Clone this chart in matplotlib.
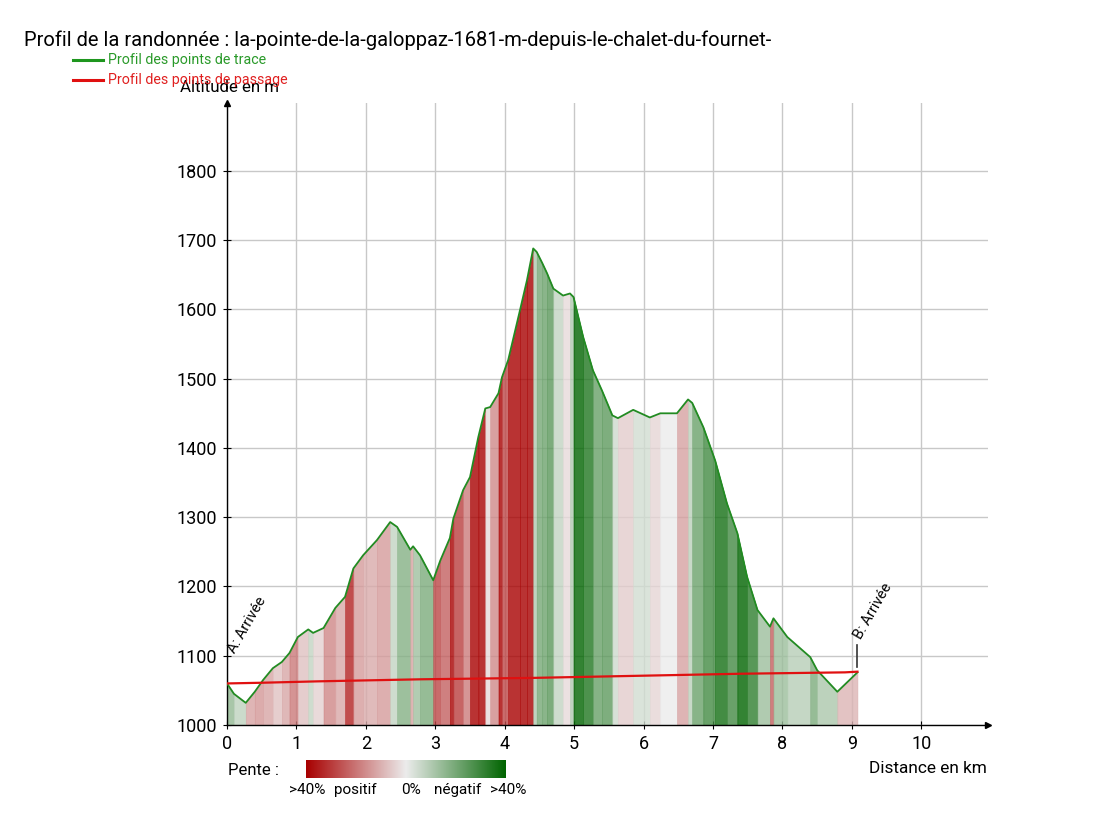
import numpy as np
import matplotlib
matplotlib.use("Agg")
import matplotlib.pyplot as plt
from matplotlib.colors import LinearSegmentedColormap
from matplotlib.lines import Line2D

plt.rcParams['font.family'] = ['Roboto', 'DejaVu Sans']

# ── Data ─────────────────────────────────────
dist_km = [0, 0.1, 0.27, 0.4, 0.52, 0.66, 0.79, 0.9, 1.02, 1.17, 1.24, 1.39, 1.56, 1.7,
           1.82, 1.96, 2.16, 2.35, 2.45, 2.64, 2.68, 2.78, 2.97, 3.07, 3.21, 3.26, 3.4,
           3.5, 3.62, 3.72, 3.79, 3.91, 3.96, 4.05, 4.22, 4.32, 4.41, 4.46, 4.54, 4.61,
           4.7, 4.84, 4.94, 4.99, 5.13, 5.27, 5.4, 5.55, 5.63, 5.85, 6.09, 6.24, 6.48,
           6.64, 6.7, 6.86, 7.03, 7.2, 7.35, 7.49, 7.64, 7.82, 7.87, 8.07, 8.4, 8.5,
           8.79, 9.08]
alt_m = [1060, 1045, 1032, 1048, 1065, 1082, 1091, 1104, 1127, 1138, 1133, 1140, 1169, 1185,
         1226, 1245, 1267, 1293, 1286, 1253, 1258, 1245, 1209, 1237, 1270, 1298, 1339,
         1358, 1416, 1457, 1459, 1479, 1502, 1527, 1599, 1642, 1688, 1683, 1667, 1652,
         1630, 1620, 1623, 1618, 1560, 1512, 1483, 1447, 1443, 1455, 1444, 1450, 1450,
         1470, 1465, 1430, 1382, 1320, 1277, 1214, 1166, 1142, 1154, 1127, 1098, 1079,
         1048, 1076]

pass_km = [0, 0.5, 1.3, 2.8, 4.4, 5.9, 7.4, 8.9, 9.08]
pass_m = [1060, 1061, 1063, 1066, 1068, 1071, 1074, 1076, 1077]

x_ticks = list(range(0, 11))
y_ticks = [1000, 1100, 1200, 1300, 1400, 1500, 1600, 1700, 1800]

title = "Profil de la randonnée : la-pointe-de-la-galoppaz-1681-m-depuis-le-chalet-du-fournet-"

# ── Colours ──────────────────────────────────
RED_DARK = "#a80000"
MID = "#ececec"
GREEN_DARK = "#006400"
cmap = LinearSegmentedColormap.from_list("pente", [RED_DARK, MID, GREEN_DARK])

# ── Figure ───────────────────────────────────
fig = plt.figure(figsize=(11.17, 8.13), dpi=100)
ax = fig.add_axes([227 / 1117, 88 / 813, 761 / 1117, 622 / 813])
ax.set_xlim(0, 10.96)
ax.set_ylim(1000, 1898)

x = np.array(dist_km)
y = np.array(alt_m)
for i in range(len(x) - 1):
    slope = (y[i + 1] - y[i]) / ((x[i + 1] - x[i]) * 1000) * 100
    v = 0.5 - np.clip(slope, -40, 40) / 80
    c = cmap(v)
    ax.fill_between(x[i:i + 2], 1000, y[i:i + 2], color=c, alpha=0.8,
                    linewidth=0.4, edgecolor=c, zorder=2)

ax.plot(x, y, color="#228b22", linewidth=1.3, zorder=4)
ax.plot(pass_km, pass_m, color="#e01010", linewidth=1.6, zorder=5)

# grid
ax.set_xticks(x_ticks)
ax.set_yticks(y_ticks)
ax.grid(True, color="#c8c8c8", linewidth=1, zorder=0)
ax.set_axisbelow(True)
for s in ["top", "right"]:
    ax.spines[s].set_visible(False)
ax.spines["left"].set_linewidth(1)
ax.spines["bottom"].set_linewidth(1)
ax.tick_params(direction="inout", length=6, labelsize=13, pad=4, colors="black")
ax.plot(1, 0, ">", transform=ax.transAxes, color="black", markersize=5, clip_on=False)
ax.plot(0, 1, "^", transform=ax.transAxes, color="black", markersize=5, clip_on=False)

# start/end labels
ax.text(0.15, 1100, "A: Arrivée", rotation=60, rotation_mode="anchor",
        ha="left", va="bottom", fontsize=10.5, zorder=6)
ax.plot([9.08, 9.08], [1084, 1115], color="#333333", linewidth=1.2, zorder=6)
ax.text(9.17, 1120, "B: Arrivée", rotation=60, rotation_mode="anchor",
        ha="left", va="bottom", fontsize=10.5, zorder=6)

# titles and axis labels
fig.text(24 / 1117, 1 - 40 / 813, title, fontsize=14.5, va="center", ha="left")
fig.text(229 / 1117, 1 - 87 / 813, "Altitude en m", fontsize=12.2, va="center", ha="center")
fig.text(987 / 1117, 1 - 768 / 813, "Distance en km", fontsize=12.4, va="center", ha="right")

# legend
fig.add_artist(Line2D([73 / 1117, 103 / 1117], [1 - 60 / 813] * 2, color="#1e961e", linewidth=2.2))
fig.add_artist(Line2D([73 / 1117, 103 / 1117], [1 - 80 / 813] * 2, color="#e01010", linewidth=2.2))
fig.text(108 / 1117, 1 - 60 / 813, "Profil des points de trace", color="#2a9a2a",
         fontsize=10.3, va="center", ha="left")
fig.text(108 / 1117, 1 - 80 / 813, "Profil des points de passage", color="#e02020",
         fontsize=10.3, va="center", ha="left")

# slope colour bar
fig.text(228 / 1117, 1 - 770 / 813, "Pente :", fontsize=12, va="center", ha="left")
cax = fig.add_axes([306 / 1117, 35 / 813, 200 / 1117, 18 / 813])
cax.imshow(np.linspace(0, 1, 256)[None, :], aspect="auto", cmap=cmap)
cax.set_axis_off()
for px, lab in [(307, ">40%"), (355, "positif"), (411, "0%"), (458, "négatif"), (508, ">40%")]:
    fig.text(px / 1117, 1 - 790 / 813, lab, fontsize=11, va="center", ha="center")

plt.savefig("out.png", dpi=100)
